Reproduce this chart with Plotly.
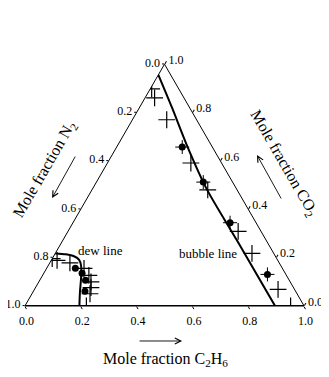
import plotly.graph_objects as go

# ternary: a = CO2 (top), b = N2 (bottom left), c = C2H6 (bottom right)
tick_values = [0.0, 0.2, 0.4, 0.6, 0.8, 1.0]
tick_labels = ["1.0", "0.8", "0.6", "0.4", "0.2", "0.0"]

bubble_line_co2 = [0.956, 0.820, 0.654, 0.484, 0.273, 0.000]
bubble_line_c2h6 = [0.000, 0.117, 0.257, 0.409, 0.622, 0.896]
bubble_line_n2 = [0.044, 0.063, 0.089, 0.107, 0.105, 0.104]

dew_line_co2 = [0.217, 0.213, 0.205, 0.190, 0.166, 0.116, 0.058, 0.000]
dew_line_c2h6 = [0.000, 0.040, 0.073, 0.099, 0.118, 0.143, 0.168, 0.195]
dew_line_n2 = [0.783, 0.747, 0.722, 0.711, 0.716, 0.741, 0.774, 0.805]

bubble_cross_co2 = [0.898, 0.861, 0.770, 0.591, 0.480, 0.308, 0.217, 0.068, 0.000]
bubble_cross_c2h6 = [0.005, 0.034, 0.123, 0.299, 0.415, 0.610, 0.705, 0.873, 0.952]
bubble_cross_n2 = [0.097, 0.105, 0.107, 0.110, 0.105, 0.082, 0.078, 0.059, 0.048]

bubble_dot_co2 = [0.657, 0.512, 0.344, 0.130]
bubble_dot_c2h6 = [0.235, 0.383, 0.563, 0.804]
bubble_dot_n2 = [0.108, 0.105, 0.093, 0.066]

dew_cross_co2 = [0.195, 0.188, 0.178, 0.155, 0.126, 0.099, 0.075, 0.050, 0.000]
dew_cross_c2h6 = [0.000, 0.021, 0.072, 0.134, 0.166, 0.187, 0.199, 0.208, 0.220]
dew_cross_n2 = [0.805, 0.791, 0.750, 0.711, 0.708, 0.714, 0.726, 0.742, 0.780]

dew_dot_co2 = [0.155, 0.135, 0.106, 0.060]
dew_dot_c2h6 = [0.103, 0.137, 0.164, 0.185]
dew_dot_n2 = [0.742, 0.728, 0.730, 0.755]

FONT = "Liberation Serif"

fig = go.Figure()

for co2, c2h6, n2 in [
    (bubble_line_co2, bubble_line_c2h6, bubble_line_n2),
    (dew_line_co2, dew_line_c2h6, dew_line_n2),
]:
    fig.add_trace(
        go.Scatterternary(
            a=co2, b=n2, c=c2h6,
            mode="lines",
            line=dict(color="black", width=2, shape="spline", smoothing=0.8),
        )
    )

for co2, c2h6, n2 in [
    (bubble_dot_co2, bubble_dot_c2h6, bubble_dot_n2),
    (dew_dot_co2, dew_dot_c2h6, dew_dot_n2),
]:
    fig.add_trace(
        go.Scatterternary(
            a=co2, b=n2, c=c2h6,
            mode="markers",
            marker=dict(symbol="circle", size=7, color="black"),
        )
    )

# small crosses through the bubble-side dots
fig.add_trace(
    go.Scatterternary(
        a=bubble_dot_co2, b=bubble_dot_n2, c=bubble_dot_c2h6,
        mode="markers",
        marker=dict(symbol="cross-thin", size=10, line=dict(color="black", width=1)),
    )
)

for co2, c2h6, n2 in [
    (bubble_cross_co2, bubble_cross_c2h6, bubble_cross_n2),
    (dew_cross_co2, dew_cross_c2h6, dew_cross_n2),
]:
    fig.add_trace(
        go.Scatterternary(
            a=co2, b=n2, c=c2h6,
            mode="markers",
            marker=dict(symbol="cross-thin", size=12, line=dict(color="black", width=1.2)),
        )
    )

axis_style = dict(
    tickmode="array",
    tickvals=tick_values,
    ticktext=tick_labels,
    showgrid=False,
    showline=True,
    linecolor="black",
    linewidth=1,
    ticks="outside",
    ticklen=3,
    tickcolor="black",
    tickfont=dict(family=FONT, size=12, color="black"),
    title=dict(text=""),
    min=0,
)

arrow = dict(
    xref="paper", yref="paper",
    text="", showarrow=True, arrowhead=5, arrowsize=1.3, arrowwidth=0.9,
    arrowcolor="black",
)
label = dict(xref="paper", yref="paper", showarrow=False,
             xanchor="center", yanchor="middle")

fig.update_layout(
    width=321,
    height=369,
    margin=dict(l=17, r=25, t=56, b=71),
    template="none",
    paper_bgcolor="white",
    showlegend=False,
    font=dict(family=FONT, color="black"),
    ternary=dict(
        sum=1,
        bgcolor="white",
        aaxis=dict(axis_style, ticklen=2),
        baxis=dict(axis_style, linewidth=1.5),
        caxis=axis_style,
    ),
    annotations=[
        dict(label, x=0.271, y=0.2285, text="dew line", font=dict(size=13)),
        dict(label, x=0.656, y=0.215, text="bubble line", font=dict(size=13)),
        dict(label, x=0.072, y=0.562, text="Mole fraction N<sub>2</sub>",
             textangle=-60, font=dict(size=16)),
        dict(label, x=0.925, y=0.591, text="Mole fraction CO<sub>2</sub>",
             textangle=60, font=dict(size=16)),
        dict(label, x=0.505, y=-0.223, text="Mole fraction C<sub>2</sub>H<sub>6</sub>",
             font=dict(size=16)),
        dict(arrow, x=0.097, y=0.446, ax=24, ay=-43),
        dict(arrow, x=0.8315, y=0.624, ax=25, ay=45),
        dict(arrow, x=0.563, y=-0.1446, ax=-44, ay=0),
    ],
)

fig.write_html("out.html")
